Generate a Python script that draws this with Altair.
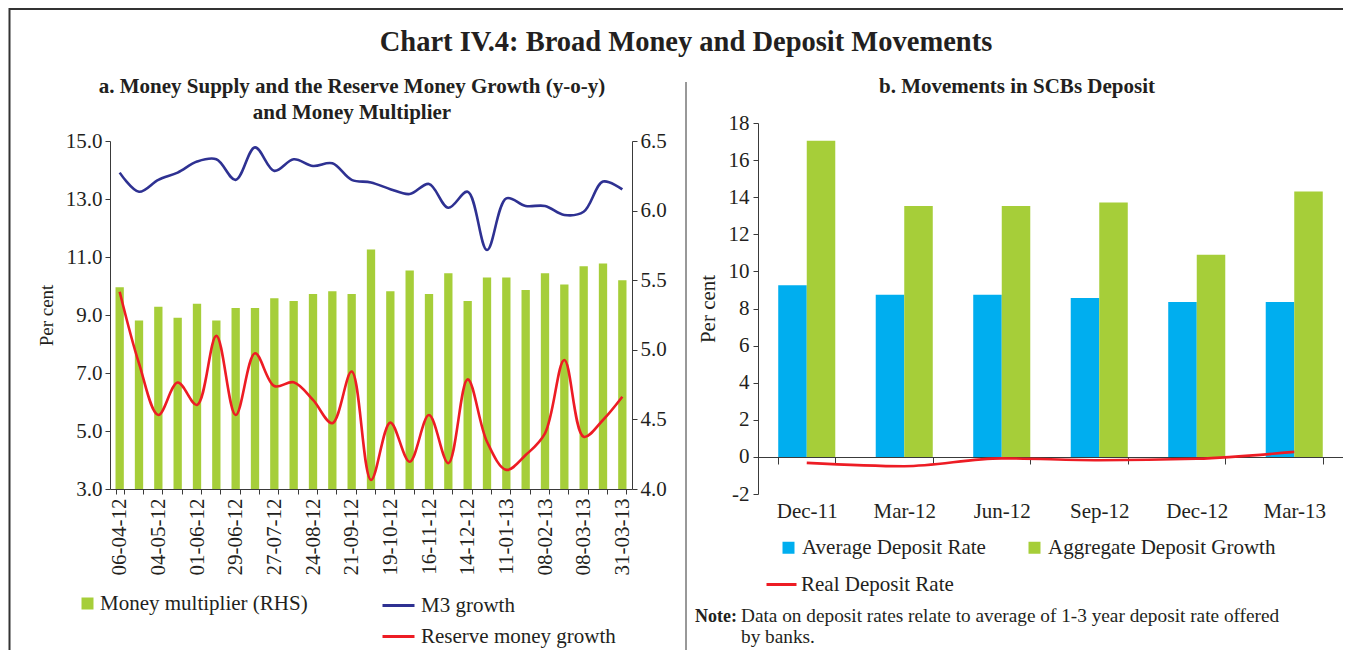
import json
import altair as alt
import pandas as pd

# ---------------- data ----------------
dates = ["06-04-12", "20-04-12", "04-05-12", "18-05-12", "01-06-12", "15-06-12", "29-06-12",
         "13-07-12", "27-07-12", "10-08-12", "24-08-12", "07-09-12", "21-09-12", "05-10-12",
         "19-10-12", "02-11-12", "16-11-12", "30-11-12", "14-12-12", "28-12-12", "11-01-13",
         "25-01-13", "08-02-13", "22-02-13", "08-03-13", "22-03-13", "31-03-13"]
shown_dates = ["06-04-12", "04-05-12", "01-06-12", "29-06-12", "27-07-12", "24-08-12", "21-09-12",
               "19-10-12", "16-11-12", "14-12-12", "11-01-13", "08-02-13", "08-03-13", "31-03-13"]
money_multiplier = [5.45, 5.21, 5.31, 5.23, 5.33, 5.21, 5.30, 5.30, 5.37, 5.35, 5.40, 5.42, 5.40,
                    5.72, 5.42, 5.57, 5.40, 5.55, 5.35, 5.52, 5.52, 5.43, 5.55, 5.47, 5.60, 5.62, 5.50]
m3_growth = [13.91, 13.25, 13.66, 13.91, 14.29, 14.37, 13.66, 14.78, 13.97, 14.37, 14.14, 14.23, 13.66,
             13.57, 13.34, 13.17, 13.52, 12.70, 13.25, 11.24, 13.02, 12.76, 12.76, 12.45, 12.56, 13.60, 13.33]
reserve_money_growth = [9.80, 7.33, 5.55, 6.67, 5.90, 8.28, 5.55, 7.68, 6.55, 6.68, 6.07, 5.27, 7.05,
                        3.31, 5.29, 3.94, 5.55, 3.89, 6.78, 4.63, 3.66, 4.17, 4.92, 7.45, 4.80, 5.38, 6.18]

quarters = ["Dec-11", "Mar-12", "Jun-12", "Sep-12", "Dec-12", "Mar-13"]
avg_deposit_rate = [9.25, 8.74, 8.74, 8.57, 8.35, 8.35]
agg_deposit_growth = [17.04, 13.52, 13.52, 13.72, 10.90, 14.31]
real_deposit_rate = [-0.32, -0.50, -0.08, -0.18, -0.10, 0.27]

a_left_ticks = [3, 5, 7, 9, 11, 13, 15]
a_right_ticks = [4.0, 4.5, 5.0, 5.5, 6.0, 6.5]
b_ticks = [-2, 0, 2, 4, 6, 8, 10, 12, 14, 16, 18]

# ---------------- style ----------------
W, H = 1335, 642
FONT = "Liberation Serif"
TXT = "#231F20"
AX = "#3a3a3a"
GREEN = "#A6CE39"
BLUE = "#00AEEF"
NAVY = "#2E3192"
RED = "#ED1C24"

MM = "Money multiplier (RHS)"
M3 = "M3 growth"
RM = "Reserve money growth"
AVG = "Average Deposit Rate"
AGG = "Aggregate Deposit Growth"
REAL = "Real Deposit Rate"

axis_style = dict(labelFont=FONT, labelFontSize=21, labelColor=TXT, titleFont=FONT,
                  titleColor=TXT, titleFontWeight="normal", domainColor=AX, tickColor=AX,
                  grid=False, tickSize=5)
legend_style = dict(orient="none", title=None, labelFont=FONT, labelFontSize=21, labelColor=TXT,
                    labelLimit=500, padding=0)

# ---------------- panel a ----------------
df_a = pd.DataFrame({"date": dates, "mm": money_multiplier, "s": MM})
df_lines = pd.DataFrame({
    "date": dates * 2,
    "value": m3_growth + reserve_money_growth,
    "series": [M3] * len(dates) + [RM] * len(dates),
})

x_a = alt.X("date:N", sort=dates,
            scale=alt.Scale(domain=dates, range=[102, 624], paddingInner=0.57, paddingOuter=0.285),
            axis=alt.Axis(orient="bottom", offset=-(H - 481), title=None, labelAngle=-90,
                          labelOverlap=False, tickBand="extent", labelPadding=4,
                          labelExpr=f"indexof({json.dumps(shown_dates)}, datum.value) >= 0 ? datum.label : ''",
                          **axis_style))

bars_a = alt.Chart(df_a).mark_bar().encode(
    x=x_a,
    y=alt.Y("mm:Q", scale=alt.Scale(domain=[4, 6.5], range=[481, 133], nice=False, zero=False),
            axis=alt.Axis(orient="right", offset=-(W - 624), values=a_right_ticks, format=".1f",
                          title=None, labelPadding=3, **axis_style)),
    y2=alt.datum(4),
    fill=alt.Fill("s:N", scale=alt.Scale(domain=[MM], range=[GREEN]),
                  legend=alt.Legend(legendX=69, legendY=585, symbolType="square", symbolSize=144,
                                    symbolStrokeWidth=0, labelOffset=2, **legend_style)),
)

lines_a = alt.Chart(df_lines).mark_line(interpolate="catmull-rom", strokeWidth=2.6).encode(
    x=x_a,
    y=alt.Y("value:Q", scale=alt.Scale(domain=[3, 15], range=[481, 133], nice=False, zero=False),
            axis=alt.Axis(orient="left", offset=-102, values=a_left_ticks, format=".1f",
                          title="Per cent", titleFontSize=19, titlePadding=9, labelPadding=3,
                          **axis_style)),
    stroke=alt.Stroke("series:N", scale=alt.Scale(domain=[M3, RM], range=[NAVY, RED]),
                      legend=alt.Legend(legendX=373, legendY=580, symbolType="stroke",
                                        symbolSize=1024, symbolStrokeWidth=3, labelOffset=5,
                                        rowPadding=3, **legend_style)),
)

layer_a = alt.layer(bars_a, lines_a).resolve_scale(y="independent")

# ---------------- panel b ----------------
df_b = pd.DataFrame({
    "quarter": quarters * 2,
    "value": avg_deposit_rate + agg_deposit_growth,
    "series": [AVG] * len(quarters) + [AGG] * len(quarters),
})
df_real = pd.DataFrame({"quarter": quarters, "value": real_deposit_rate, "series": REAL})

x_b = alt.X("quarter:N", sort=quarters,
            scale=alt.Scale(domain=quarters, range=[750, 1335], paddingInner=0.415, paddingOuter=0.2075),
            axis=alt.Axis(orient="bottom", offset=-(H - 449), title=None, labelAngle=0,
                          tickBand="extent", labelPadding=36, **{**axis_style, "tickSize": 7}))
y_b = alt.Y("value:Q", scale=alt.Scale(domain=[-2, 18], range=[486, 115], nice=False),
            axis=alt.Axis(orient="left", offset=-750, values=b_ticks, title="Per cent",
                          titleFontSize=21, titlePadding=10, labelPadding=4,
                          labelExpr="datum.value < 0 ? '-' + abs(datum.value) : datum.label",
                          **axis_style))

bars_b = alt.Chart(df_b).mark_bar().encode(
    x=x_b,
    xOffset=alt.XOffset("series:N", sort=[AVG, AGG], scale=alt.Scale(paddingInner=0, paddingOuter=0)),
    y=y_b,
    fill=alt.Fill("series:N", scale=alt.Scale(domain=[AVG, AGG], range=[BLUE, GREEN]),
                  legend=alt.Legend(legendX=770, legendY=529, direction="horizontal",
                                    symbolType="square", symbolSize=144, symbolStrokeWidth=0,
                                    labelOffset=3, columnPadding=38, **legend_style)),
)

line_b = alt.Chart(df_real).mark_line(interpolate="monotone", strokeWidth=2.6).encode(
    x=x_b,
    y=y_b,
    stroke=alt.Stroke("series:N", scale=alt.Scale(domain=[REAL], range=[RED]),
                      legend=alt.Legend(legendX=757, legendY=560, symbolType="stroke",
                                        symbolSize=900, symbolStrokeWidth=3, labelOffset=3,
                                        **legend_style)),
)

layer_b = alt.layer(bars_b, line_b)

# ---------------- frame, titles, note ----------------
one = pd.DataFrame({"t": [""]})
frame_top = alt.Chart(one).mark_rule(color="#333", strokeWidth=2).encode(
    x=alt.value(1), x2=alt.value(W), y=alt.value(1))
frame_left = alt.Chart(one).mark_rule(color="#333", strokeWidth=2).encode(
    x=alt.value(1.5), y=alt.value(0), y2=alt.value(H))
divider = alt.Chart(one).mark_rule(color="#333", strokeWidth=1).encode(
    x=alt.value(678), y=alt.value(74), y2=alt.value(H))


def label(text, x, y, size, weight="normal", align="center"):
    return alt.Chart(pd.DataFrame({"t": [text]})).mark_text(
        font=FONT, fontSize=size, fontWeight=weight, align=align, baseline="alphabetic",
        color=TXT).encode(x=alt.value(x), y=alt.value(y), text="t:N")


texts = [
    label("Chart IV.4: Broad Money and Deposit Movements", 678, 43, 28.5, "bold"),
    label("a. Money Supply and the Reserve Money Growth (y-o-y)", 344, 85, 21, "bold"),
    label("and Money Multiplier", 344, 111, 21, "bold"),
    label("b. Movements in SCBs Deposit", 1009, 85, 21, "bold"),
    label("Note:", 687, 614, 18, "bold", "left"),
    label("Data on deposit rates relate to average of 1-3 year deposit rate offered", 733, 614, 19.3, "normal", "left"),
    label("by banks.", 733, 635, 19.3, "normal", "left"),
]

chart = alt.layer(frame_top, frame_left, divider, *texts, layer_a, layer_b).resolve_scale(
    x="independent", y="independent", fill="independent", stroke="independent"
).properties(
    width=W, height=H, padding=0, autosize=alt.AutoSizeParams(type="none"), background="white"
).configure_view(stroke=None)

chart.save("out.html", embed_options={"renderer": "svg", "actions": False})
